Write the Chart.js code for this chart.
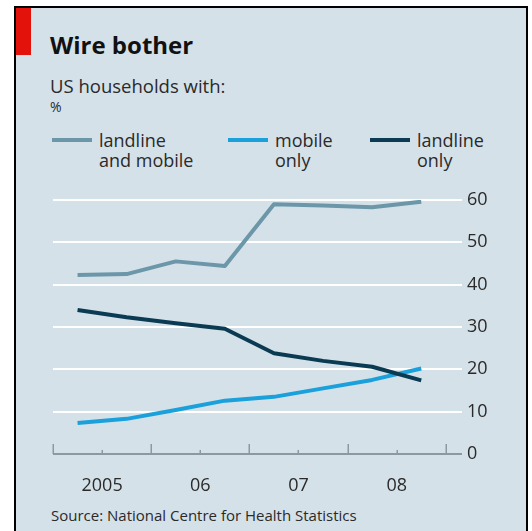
<!DOCTYPE html>
<html>
<head>
<meta charset="utf-8">
<title>Wire bother</title>
<script src="https://cdn.jsdelivr.net/npm/chart.js@4/dist/chart.umd.min.js"></script>
<style>
  html, body { margin: 0; padding: 0; background: #fff; width: 532px; height: 531px; overflow: hidden; }
  body { position: relative; font-family: "Open Sans", sans-serif; }
  #panel { position: absolute; left: 14px; top: 6px; width: 510px; height: 525px;
           border: 2px solid #000; border-bottom: none; background: #d5e1e9; }
  #flag { position: absolute; left: 16px; top: 8px; width: 15px; height: 47px; background: #e3120b; }
  .txt { position: absolute; white-space: nowrap; }
  #title { left: 50px; top: 33px; font-size: 24px; line-height: 24px; font-weight: 700; color: #111; }
  #subtitle { left: 50px; top: 77px; font-size: 18.5px; line-height: 18.5px; color: #2a2a2a; }
  #unit { left: 50px; top: 100px; font-size: 14px; line-height: 14px; color: #2a2a2a; }
  #source { left: 51px; top: 508px; font-size: 15px; line-height: 15px; color: #2a2a2a; }
  .key { position: absolute; top: 130px; }
  .key .swatch { position: absolute; left: 0; top: 8px; width: 40px; height: 4px; }
  .key .label { position: absolute; left: 47px; top: 0; font-size: 18px; line-height: 20px; color: #2a2a2a; white-space: nowrap; }
  canvas { position: absolute; left: 0; top: 0; }
</style>
</head>
<body>
<div id="panel"></div>
<div id="flag"></div>
<div id="title" class="txt">Wire bother</div>
<div id="subtitle" class="txt">US households with:</div>
<div id="unit" class="txt">%</div>
<div id="legend"></div>
<div id="source" class="txt">Source: National Centre for Health Statistics</div>
<canvas id="chart" width="532" height="531"></canvas>
<script>
// Half-year survey periods (2005 H1 ... 2008 H2), placed mid-period on a year axis
const halfYears = [2005.25, 2005.75, 2006.25, 2006.75, 2007.25, 2007.75, 2008.25, 2008.75];

// Share of US households, %
const landlineAndMobile = [42.3, 42.5, 45.5, 44.4, 59.0, 58.7, 58.3, 59.6];
const mobileOnly        = [7.3, 8.3, 10.4, 12.6, 13.5, 15.5, 17.5, 20.2];
const landlineOnly      = [34.0, 32.3, 30.9, 29.6, 23.8, 22.0, 20.6, 17.4];

const seriesNames  = [["landline", "and mobile"], ["mobile", "only"], ["landline", "only"]];
const seriesColors = ["#6b97a9", "#1aa0da", "#0b3b53"];

// Year labels sit in the middle of each year; ticks mark year boundaries and half-years
const yearLabels = ["2005", "06", "07", "08"];
const yearLabelAt = [2005.5, 2006.5, 2007.5, 2008.5];
const majorTicks = [2005, 2006, 2007, 2008, 2009];
const minorTicks = [2005.5, 2006.5, 2007.5, 2008.5];
const yTicks = [0, 10, 20, 30, 40, 50, 60];

const legendX = [52, 228, 370];

// Legend built from the series names and colours
const legendEl = document.getElementById("legend");
seriesNames.forEach((lines, i) => {
  const item = document.createElement("div");
  item.className = "key";
  item.style.left = legendX[i] + "px";
  const sw = document.createElement("div");
  sw.className = "swatch";
  sw.style.background = seriesColors[i];
  const lb = document.createElement("div");
  lb.className = "label";
  lb.innerHTML = lines.join("<br>");
  item.appendChild(sw);
  item.appendChild(lb);
  legendEl.appendChild(item);
});

const toPoints = arr => halfYears.map((x, i) => ({ x: x, y: arr[i] }));

// Baseline with year ticks (major) and half-year ticks (minor), pointing up
const baselineAxis = {
  id: "baselineAxis",
  beforeDatasetsDraw(chart) {
    const { ctx, chartArea, scales } = chart;
    const x = scales.x, y = scales.y;
    const y0 = y.getPixelForValue(0);
    ctx.save();
    ctx.strokeStyle = "#8c99a1";
    ctx.lineWidth = 2;
    ctx.beginPath();
    ctx.moveTo(x.getPixelForValue(majorTicks[0]), y0);
    ctx.lineTo(chartArea.right, y0);
    ctx.stroke();
    ctx.lineWidth = 1.5;
    majorTicks.forEach(v => {
      const px = Math.round(x.getPixelForValue(v)) + 0.25;
      ctx.beginPath();
      ctx.moveTo(px, y0);
      ctx.lineTo(px, y0 - 10);
      ctx.stroke();
    });
    minorTicks.forEach(v => {
      const px = Math.round(x.getPixelForValue(v)) + 0.25;
      ctx.beginPath();
      ctx.moveTo(px, y0);
      ctx.lineTo(px, y0 - 4);
      ctx.stroke();
    });
    ctx.restore();
  }
};

const lineStyle = { borderWidth: 4, pointRadius: 0, tension: 0, borderJoinStyle: "round", borderCapStyle: "butt", fill: false };

new Chart(document.getElementById("chart"), {
  type: "line",
  data: {
    datasets: [
      Object.assign({ label: seriesNames[2].join(" "), data: toPoints(landlineOnly), borderColor: seriesColors[2], order: 0 }, lineStyle),
      Object.assign({ label: seriesNames[1].join(" "), data: toPoints(mobileOnly), borderColor: seriesColors[1], order: 1 }, lineStyle),
      Object.assign({ label: seriesNames[0].join(" "), data: toPoints(landlineAndMobile), borderColor: seriesColors[0], order: 2 }, lineStyle)
    ]
  },
  options: {
    responsive: false,
    animation: false,
    devicePixelRatio: 1,
    layout: { padding: { left: 53, top: 200, right: 0, bottom: 0 } },
    plugins: { legend: { display: false }, tooltip: { enabled: false } },
    scales: {
      x: {
        type: "linear",
        min: 2005,
        max: 2009.165,
        grid: { display: false },
        border: { display: false },
        afterBuildTicks: s => { s.ticks = yearLabelAt.map(v => ({ value: v })); },
        afterFit: s => { s.height = 77; },
        ticks: {
          autoSkip: false,
          maxRotation: 0,
          padding: 13,
          color: "#2a2a2a",
          font: { family: "Open Sans", size: 18 },
          callback: (v, i) => yearLabels[i]
        }
      },
      y: {
        position: "right",
        min: 0,
        max: 60,
        border: { display: false },
        afterBuildTicks: s => { s.ticks = yTicks.map(v => ({ value: v })); },
        afterFit: s => { s.width = 70; },
        grid: {
          drawTicks: false,
          lineWidth: 2,
          color: c => (c.tick && c.tick.value === 0) ? "rgba(0,0,0,0)" : "#ffffff"
        },
        ticks: {
          padding: 5,
          color: "#2a2a2a",
          font: { family: "Open Sans", size: 18 },
          callback: v => String(v)
        }
      }
    }
  },
  plugins: [baselineAxis]
});
</script>
</body>
</html>
